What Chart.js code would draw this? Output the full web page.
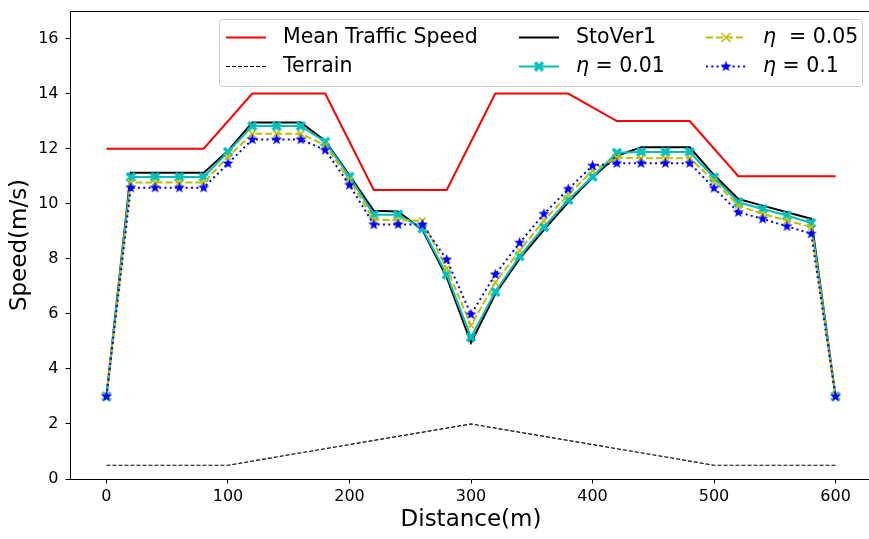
<!DOCTYPE html>
<html>
<head>
<meta charset="utf-8">
<script src="https://cdn.jsdelivr.net/npm/chart.js@4/dist/chart.umd.min.js"></script>
<style>
  html, body { margin: 0; padding: 0; background: #fff; overflow: hidden; }
  #wrap { width: 874px; height: 539px; }
</style>
</head>
<body>
<div id="wrap"><canvas id="speedChart" width="874" height="539"></canvas></div>
<script>
// one sample every 20 m along the route
const distance = [0, 20, 40, 60, 80, 100, 120, 140, 160, 180, 200, 220, 240, 260, 280, 300,
                  320, 340, 360, 380, 400, 420, 440, 460, 480, 500, 520, 540, 560, 580, 600];
const stoVer1 = [3.0, 11.12, 11.12, 11.12, 11.12, 11.92, 12.95, 12.95, 12.95, 12.28, 11.03, 9.74, 9.72, 9.05, 7.33, 4.95,
                 6.72, 8.0, 9.05, 10.05, 10.95, 11.74, 12.05, 12.05, 12.05, 11.04, 10.17, 9.93, 9.69, 9.45, 3.0];
const eta001 = [3.0, 10.97, 10.97, 10.97, 10.97, 11.88, 12.82, 12.82, 12.82, 12.25, 10.98, 9.6, 9.6, 9.1, 7.43, 5.15,
                6.8, 8.09, 9.15, 10.14, 10.98, 11.85, 11.88, 11.88, 11.88, 10.95, 10.05, 9.81, 9.57, 9.3, 3.0];
const eta005 = [3.0, 10.77, 10.77, 10.77, 10.77, 11.7, 12.54, 12.54, 12.54, 12.12, 10.86, 9.42, 9.4, 9.38, 7.65, 5.58,
                7.14, 8.3, 9.39, 10.33, 11.2, 11.68, 11.65, 11.65, 11.65, 10.83, 9.93, 9.63, 9.39, 9.15, 3.0];
const eta01 = [3.0, 10.58, 10.58, 10.58, 10.58, 11.46, 12.33, 12.33, 12.33, 11.95, 10.68, 9.24, 9.25, 9.24, 7.97, 5.98,
               7.43, 8.58, 9.63, 10.53, 11.38, 11.47, 11.47, 11.47, 11.47, 10.57, 9.69, 9.45, 9.18, 8.91, 3.0];

// reference curves, given by their corners
const meanSpeedDist = [0, 80, 120, 180, 220, 280, 320, 380, 420, 480, 520, 600];
const meanSpeed = [12, 12, 14, 14, 10.5, 10.5, 14, 14, 13, 13, 11, 11];
const terrainDist = [0, 100, 300, 500, 600];
const terrain = [0.5, 0.5, 2, 0.5, 0.5];

const xTicks = [0, 100, 200, 300, 400, 500, 600];
const yTicks = [0, 2, 4, 6, 8, 10, 12, 14, 16];

const pts = (xs, ys) => xs.map((x, i) => ({ x: x, y: ys[i] }));

function markerCanvas(size, draw) {
  const c = document.createElement('canvas');
  c.width = size; c.height = size;
  const g = c.getContext('2d');
  g.translate(size / 2, size / 2);
  draw(g);
  return c;
}
// matplotlib 'X' (filled) and '*' markers
const xMarker = markerCanvas(12, g => {
  g.strokeStyle = '#00bfbf'; g.lineWidth = 3.4;
  g.beginPath();
  g.moveTo(-4, -4); g.lineTo(4, 4);
  g.moveTo(4, -4); g.lineTo(-4, 4);
  g.stroke();
});
const starMarker = markerCanvas(13, g => {
  g.fillStyle = '#0000ff';
  g.beginPath();
  for (let i = 0; i < 10; i++) {
    const r = i % 2 ? 2.4 : 5.8;
    const a = -Math.PI / 2 + i * Math.PI / 5;
    g.lineTo(r * Math.cos(a), r * Math.sin(a));
  }
  g.closePath();
  g.fill();
});

// legend laid out in 3 columns like matplotlib's ncol=3
const legendBox = {
  id: 'legendBox',
  afterDraw(chart) {
    const ctx = chart.ctx;
    const ds = chart.data.datasets;
    const cols = [226, 519, 706];
    const rows = [37.5, 66.5];
    const slot = [[0, 0], [0, 1], [1, 0], [1, 1], [2, 0], [2, 1]];
    ctx.save();
    ctx.beginPath();
    ctx.roundRect(219.5, 19.5, 643, 67, 3);
    ctx.fillStyle = 'rgba(255,255,255,0.8)';
    ctx.fill();
    ctx.strokeStyle = '#cccccc';
    ctx.lineWidth = 1;
    ctx.stroke();

    ds.forEach((d, i) => {
      const x0 = cols[slot[i][0]], y = rows[slot[i][1]];
      ctx.save();
      ctx.strokeStyle = d.borderColor;
      ctx.lineWidth = d.borderWidth;
      ctx.setLineDash(d.borderDash || []);
      ctx.beginPath();
      ctx.moveTo(x0, y); ctx.lineTo(x0 + 40, y);
      ctx.stroke();
      ctx.restore();

      const ps = d.pointStyle;
      if (ps && typeof ps === 'object') {
        ctx.drawImage(ps, x0 + 20 - ps.width / 2, y - ps.height / 2);
      } else if (ps === 'crossRot') {
        const r = 4.5;
        ctx.strokeStyle = d.pointBorderColor;
        ctx.lineWidth = d.pointBorderWidth;
        ctx.beginPath();
        ctx.moveTo(x0 + 20 - r, y - r); ctx.lineTo(x0 + 20 + r, y + r);
        ctx.moveTo(x0 + 20 + r, y - r); ctx.lineTo(x0 + 20 - r, y + r);
        ctx.stroke();
      }

      ctx.fillStyle = '#000';
      ctx.textBaseline = 'middle';
      let tx = x0 + 57;
      let text = d.label;
      if (text.startsWith('η')) {
        ctx.font = 'italic 20.5px "DejaVu Sans"';
        ctx.fillText('η', tx, y);
        tx += ctx.measureText('η').width;
        text = text.slice(1);
      }
      ctx.font = '20.5px "DejaVu Sans"';
      ctx.fillText(text, tx, y);
    });
    ctx.restore();
  }
};

// top/right spines
const frame = {
  id: 'frame',
  afterDraw(chart) {
    const a = chart.chartArea, ctx = chart.ctx;
    ctx.save();
    ctx.strokeStyle = '#000';
    ctx.lineWidth = 1;
    ctx.beginPath();
    ctx.moveTo(a.left, a.top + 0.5); ctx.lineTo(a.right, a.top + 0.5);
    ctx.moveTo(a.right - 0.5, a.top); ctx.lineTo(a.right - 0.5, a.bottom);
    ctx.stroke();
    ctx.restore();
  }
};

Chart.defaults.font.family = '"DejaVu Sans"';
Chart.defaults.color = '#000';

const tickGrid = { display: true, drawOnChartArea: false, drawTicks: true, tickLength: 4.5, color: '#000' };
const noPad = s => { s.paddingTop = 0; s.paddingBottom = 0; s.paddingLeft = 0; s.paddingRight = 0; };

new Chart(document.getElementById('speedChart'), {
  type: 'line',
  data: {
    datasets: [
      { label: 'Mean Traffic Speed', data: pts(meanSpeedDist, meanSpeed), borderColor: '#ff0000',
        borderWidth: 2, pointRadius: 0, order: 6 },
      { label: 'Terrain', data: pts(terrainDist, terrain), borderColor: '#000000',
        borderWidth: 1.2, borderDash: [4, 2], pointRadius: 0, order: 5 },
      { label: 'StoVer1', data: pts(distance, stoVer1), borderColor: '#000000',
        borderWidth: 2, pointRadius: 0, order: 4 },
      { label: 'η = 0.01', data: pts(distance, eta001), borderColor: '#00bfbf',
        borderWidth: 2, pointStyle: xMarker, pointRadius: 5, order: 3 },
      { label: 'η  = 0.05', data: pts(distance, eta005), borderColor: '#bfbf00',
        borderWidth: 2, borderDash: [7, 3], pointStyle: 'crossRot', pointRadius: 4.5,
        pointBorderColor: '#bfbf00', pointBorderWidth: 1.5, order: 2 },
      { label: 'η = 0.1', data: pts(distance, eta01), borderColor: '#0000ff',
        borderWidth: 2, borderDash: [2, 3.3], pointStyle: starMarker, pointRadius: 5, order: 1 },
    ],
  },
  options: {
    responsive: false,
    animation: false,
    layout: { autoPadding: false, padding: { top: 11, right: 2, left: 0, bottom: 0 } },
    elements: { line: { tension: 0, fill: false } },
    plugins: { legend: { display: false }, tooltip: { enabled: false } },
    scales: {
      x: {
        type: 'linear', min: -30, max: 630,
        afterBuildTicks: s => { s.ticks = xTicks.map(v => ({ value: v })); },
        afterFit: s => { s.height = 60; noPad(s); },
        grid: tickGrid,
        border: { display: true, color: '#000', width: 1 },
        ticks: { font: { size: 16 }, padding: 4, maxRotation: 0 },
        title: { display: true, text: 'Distance(m)', font: { size: 23 }, padding: { top: 0, bottom: 5 } },
      },
      y: {
        min: 0, max: 17,
        afterBuildTicks: s => { s.ticks = yTicks.map(v => ({ value: v })); },
        afterFit: s => { s.width = 70; noPad(s); },
        grid: tickGrid,
        border: { display: true, color: '#000', width: 1 },
        ticks: { font: { size: 16 }, padding: 7 },
        title: { display: true, text: 'Speed(m/s)', font: { size: 23 }, padding: { top: 6, bottom: 0 } },
      },
    },
  },
  plugins: [legendBox, frame],
});
</script>
</body>
</html>
